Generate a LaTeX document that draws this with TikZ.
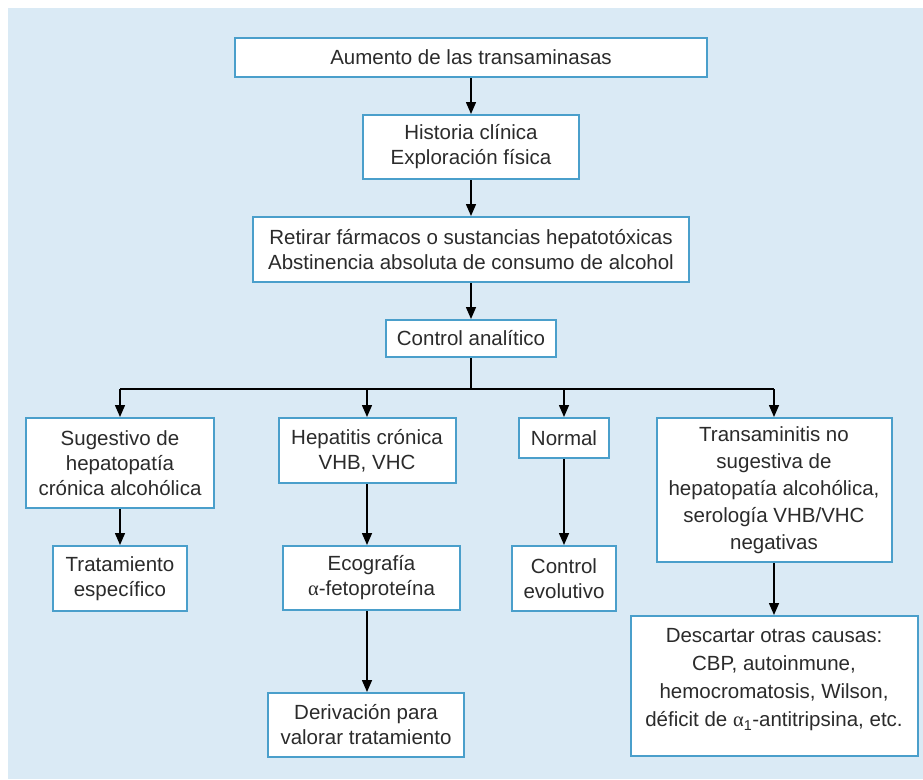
\documentclass[tikz,border=0pt]{standalone}
\usepackage{fontspec}
\setmainfont{Liberation Sans}
\newfontfamily\greekserif{Liberation Serif}
\newcommand{\alfa}{{\greekserif α}}
\usetikzlibrary{arrows.meta}
\definecolor{panelblue}{HTML}{DAEAF5}
\definecolor{boxblue}{HTML}{4A9FCB}
\definecolor{inkgray}{HTML}{2B2B2B}
\begin{document}
\begin{tikzpicture}[x=1pt,y=-1pt,
  box/.style={draw=boxblue, line width=2pt, fill=white, inner sep=0pt,
    align=center, text=inkgray, font=\fontsize{20.5}{25}\selectfont},
  txt/.style={inner sep=0pt, align=center, text=inkgray,
    font=\fontsize{20.5}{28}\selectfont},
  arr/.style={draw=black, line width=1.5pt, -{Triangle[length=12pt,width=10pt]}},
  link/.style={draw=black, line width=1.5pt}]
\useasboundingbox (0,0) rectangle (923,779);
\fill[panelblue] (8,8) rectangle (923,779);

% main column
\node[box, minimum width=472, minimum height=39] (b1) at (471,57.5) {Aumento de las transaminasas};
\node[box, minimum width=216, minimum height=64] (b2) at (471,147) {Historia clínica\\Exploración física};
\node[box, minimum width=436, minimum height=65] (b3) at (471,249.5) {Retirar fármacos o sustancias hepatotóxicas\\Abstinencia absoluta de consumo de alcohol};
\node[box, minimum width=170, minimum height=37] (b4) at (471,338.5) {Control analítico};

% results of the analysis
\node[box, minimum width=188, minimum height=90] (b5) at (120,463) {Sugestivo de\\hepatopatía\\crónica alcohólica};
\node[box, minimum width=177, minimum height=65] (b6) at (367,450.5) {Hepatitis crónica\\VHB, VHC};
\node[box, minimum width=90, minimum height=40] (b7) at (564,438) {Normal};
\node[box, minimum width=235, minimum height=144, font=\fontsize{20.5}{27}\selectfont] (b8) at (774,490) {Transaminitis no\\sugestiva de\\hepatopatía alcohólica,\\serología VHB/VHC\\negativas};

% follow-up steps
\node[box, minimum width=134, minimum height=65] (b9) at (120,578.5) {Tratamiento\\específico};
\node[box, minimum width=177, minimum height=64] (b10) at (371.5,578) {Ecografía\\\alfa-fetoproteína};
\node[box, minimum width=104, minimum height=65] (b11) at (564,578.5) {Control\\evolutivo};
\node[box, minimum width=196, minimum height=64] (b12) at (366,725) {Derivación para\\valorar tratamiento};
\node[box, minimum width=287, minimum height=140] (b13) at (774,686) {};
\node[txt] (t13) at (774,680) {Descartar otras causas:\\CBP, autoinmune,\\hemocromatosis, Wilson,\\déficit de \alfa\textsubscript{1}-antitripsina, etc.};

% connectors
\draw[arr] (b1) -- (b2);
\draw[arr] (b2) -- (b3);
\draw[arr] (b3) -- (b4);
\coordinate (split) at (471,389);
\draw[link] (b4.south) -- (split);
\draw[link] (b5.north |- split) -- (b8.north |- split);
\draw[arr] (b5.north |- split) -- (b5.north);
\draw[arr] (b6.north |- split) -- (b6.north);
\draw[arr] (b7.north |- split) -- (b7.north);
\draw[arr] (b8.north |- split) -- (b8.north);
\draw[arr] (b5) -- (b9.north -| b5.south);
\draw[arr] (b6) -- (b10.north -| b6.south);
\draw[arr] (b7) -- (b11);
\draw[arr] (b10.south -| b6.south) -- (b12.north -| b6.south);
\draw[arr] (b8) -- (b13);
\end{tikzpicture}
\end{document}
